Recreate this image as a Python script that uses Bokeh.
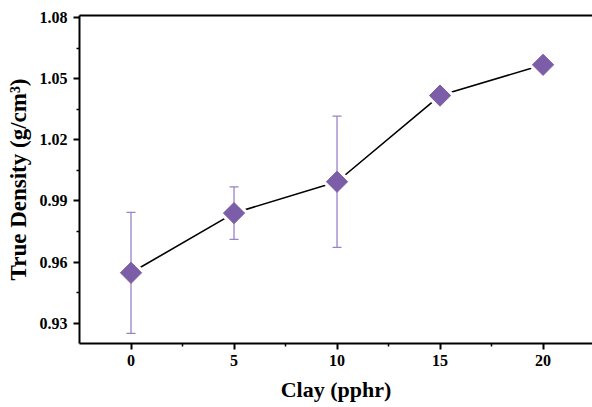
import math
from bokeh.plotting import figure
from bokeh.models import (ColumnDataSource, FixedTicker, LinearAxis,
                          NumeralTickFormatter, Range1d)
from bokeh.embed import file_html
from bokeh.resources import INLINE

clay = [0, 5, 10, 15, 20]
density = [0.9547, 0.9840, 0.9994, 1.0417, 1.0568]
err = [0.0297, 0.0129, 0.0322, 0.002, 0.002]
x_ticks = [0, 5, 10, 15, 20]
y_ticks = [0.93, 0.96, 0.99, 1.02, 1.05, 1.08]

src = ColumnDataSource(dict(
    x=clay, y=density,
    lo=[d - e for d, e in zip(density, err)],
    hi=[d + e for d, e in zip(density, err)],
))

FONT = "Liberation Serif"
MARK = "#7b5ea7"
ERR = "#9a82c6"

p = figure(width=592, height=407, output_backend="svg", toolbar_location=None,
           x_range=Range1d(-2.5, 22.4), y_range=Range1d(0.92, 1.081),
           min_border_left=79, min_border_right=0, min_border_top=15, min_border_bottom=64)
p.outline_line_color = None
p.grid.visible = False
p.background_fill_color = "white"
p.border_fill_color = "white"

p.line("x", "y", source=src, line_color="black", line_width=1.6)
# white halo to give the line gaps around markers
p.scatter("x", "y", source=src, marker="square", angle=math.pi / 4, size=22,
          fill_color="white", line_color=None)

# error bars
p.segment(x0="x", y0="lo", x1="x", y1="hi", source=src, line_color=ERR, line_width=1.3)
p.scatter("x", "lo", source=src, marker="dash", size=9, line_color=ERR, line_width=1.3)
p.scatter("x", "hi", source=src, marker="dash", size=9, line_color=ERR, line_width=1.3)

p.scatter("x", "y", source=src, marker="square", angle=math.pi / 4, size=15,
          fill_color=MARK, line_color=MARK)

for ax in (p.xaxis[0], p.yaxis[0]):
    ax.axis_line_width = 2
    ax.axis_line_color = "black"
    ax.major_tick_line_width = 2
    ax.minor_tick_line_width = 1.5
    ax.major_tick_out = 6
    ax.major_tick_in = 0
    ax.minor_tick_out = 3
    ax.minor_tick_in = 0
    ax.major_label_text_font = FONT
    ax.major_label_text_font_style = "bold"
    ax.major_label_text_font_size = "16px"
    ax.major_label_text_color = "black"
    ax.axis_label_text_font = FONT
    ax.axis_label_text_font_style = "bold"
    ax.axis_label_text_color = "black"

p.xaxis.axis_label_text_font_size = "22px"
p.yaxis.axis_label_text_font_size = "23px"
p.xaxis.ticker = FixedTicker(ticks=x_ticks, minor_ticks=[2.5, 7.5, 12.5, 17.5])
p.yaxis.ticker = FixedTicker(ticks=y_ticks, minor_ticks=[0.945, 0.975, 1.005, 1.035, 1.065])
p.yaxis.formatter = NumeralTickFormatter(format="0.00")
p.xaxis.axis_label = "Clay (pphr)"
p.yaxis.axis_label = "True Density (g/cm³)"
p.xaxis.major_label_standoff = 5
p.yaxis.major_label_standoff = 6
p.xaxis.axis_label_standoff = 8
p.yaxis.axis_label_standoff = 6

top = LinearAxis(axis_line_width=2, axis_line_color="black",
                 major_tick_line_color=None, minor_tick_line_color=None,
                 major_label_text_font_size="0px", ticker=FixedTicker(ticks=[]))
p.add_layout(top, "above")

open("out.html", "w").write(file_html(p, INLINE))
